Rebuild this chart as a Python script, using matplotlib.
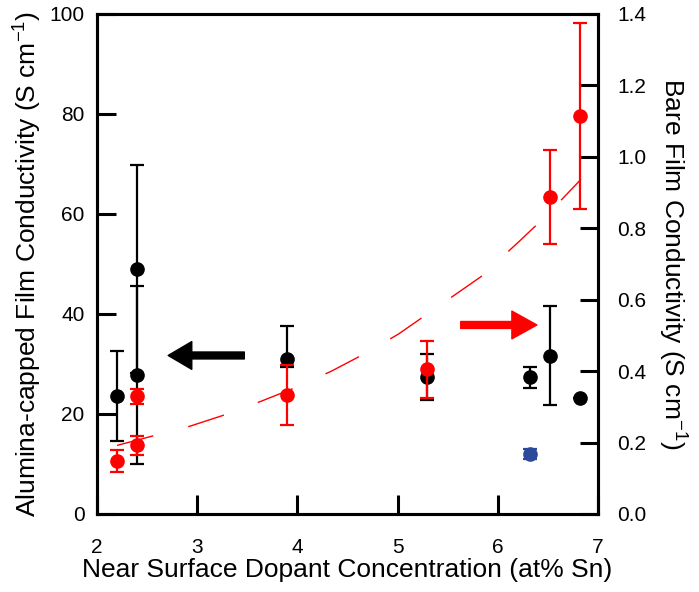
import matplotlib
matplotlib.use("Agg")
import matplotlib.pyplot as plt

plt.rcParams['font.family'] = ['Liberation Sans', 'DejaVu Sans']
plt.rcParams['mathtext.fontset'] = 'custom'
plt.rcParams['mathtext.rm'] = 'Liberation Sans'
plt.rcParams['mathtext.it'] = 'Liberation Sans'

# alumina-capped films (left axis)
x_cap = [2.2, 2.4, 2.4, 3.9, 5.29, 6.32, 6.52, 6.82]
y_cap = [23.6, 49.0, 27.8, 30.9, 27.3, 27.3, 31.6, 23.2]
cap_lo = [9.0, 20.8, 17.8, 1.5, 4.6, 2.1, 9.9, 0.0]
cap_hi = [9.0, 20.8, 17.8, 6.7, 4.6, 2.1, 9.9, 0.0]

# extra (blue) point, left axis
x_blue = [6.32]
y_blue = [12.0]
e_blue = [1.0]

# bare films (right axis)
x_bare = [2.2, 2.4, 2.4, 3.9, 5.29, 6.52, 6.82]
y_bare = [0.148, 0.330, 0.192, 0.333, 0.405, 0.888, 1.114]
e_bare = [0.030, 0.021, 0.027, 0.083, 0.080, 0.131, 0.260]

# dashed fit through the bare film data
x_fit = [2.2, 2.93, 3.29, 3.65, 3.99, 4.34, 4.68, 5.01, 5.83, 6.22, 6.48, 6.83]
y_fit = [0.192, 0.246, 0.279, 0.317, 0.355, 0.400, 0.450, 0.504, 0.664, 0.765, 0.834, 0.937]

fig = plt.figure(figsize=(6.99, 5.92), dpi=100)
ax = fig.add_axes([0.1388, 0.1318, 0.7167, 0.8446])
ax2 = ax.twinx()

ax.errorbar(x_cap, y_cap, yerr=[cap_lo, cap_hi], fmt='o', color='black', ms=9.5,
            elinewidth=1.6, capsize=5, capthick=1.6, zorder=3)
ax.errorbar(x_blue, y_blue, yerr=e_blue, fmt='o', color='#2B4A9B', ms=9.5,
            elinewidth=1.6, capsize=5, capthick=1.6, zorder=3)

ax2.plot(x_fit, y_fit, color='red', lw=1.0, linestyle=(0, (27, 26)))
ax2.errorbar(x_bare, y_bare, yerr=e_bare, fmt='o', color='red', ms=9.5,
             elinewidth=1.6, capsize=5, capthick=1.6, zorder=3)

# arrows pointing at each axis
ax.annotate('', xy=(2.71, 31.7), xytext=(3.47, 31.7),
            arrowprops=dict(arrowstyle='simple,head_length=17,head_width=20,tail_width=5',
                            mutation_scale=1, color='black', shrinkA=0, shrinkB=0))
ax.annotate('', xy=(6.39, 37.8), xytext=(5.63, 37.8),
            arrowprops=dict(arrowstyle='simple,head_length=18,head_width=20,tail_width=5',
                            mutation_scale=1, color='red', shrinkA=0, shrinkB=0))

ax.set_xlim(2, 7)
ax.set_ylim(0, 100)
ax2.set_ylim(0, 1.4)
ax.set_xticks([2, 3, 4, 5, 6, 7])
ax.set_yticks([0, 20, 40, 60, 80, 100])
ax2.set_yticks([0.0, 0.2, 0.4, 0.6, 0.8, 1.0, 1.2, 1.4])
ax2.set_yticklabels(['0.0', '0.2', '0.4', '0.6', '0.8', '1.0', '1.2', '1.4'])

ax.tick_params(axis='x', direction='in', length=13.5, width=2.2, pad=17, labelsize=15)
ax.tick_params(axis='y', direction='in', length=14, width=2.2, pad=9, labelsize=15)
ax2.tick_params(axis='y', direction='in', length=13, width=2.2, pad=14, labelsize=15)
for a in (ax, ax2):
    for s in a.spines.values():
        s.set_linewidth(2.2)

ax.set_xlabel('Near Surface Dopant Concentration (at% Sn)', fontsize=19, labelpad=1)
ax.set_ylabel('Alumina-capped Film Conductivity (S cm$^{-1}$)', fontsize=19, labelpad=4)
ax2.set_ylabel('Bare Film Conductivity (S cm$^{-1}$)', fontsize=19, rotation=270, labelpad=30)

fig.savefig('out.png', dpi=100)
